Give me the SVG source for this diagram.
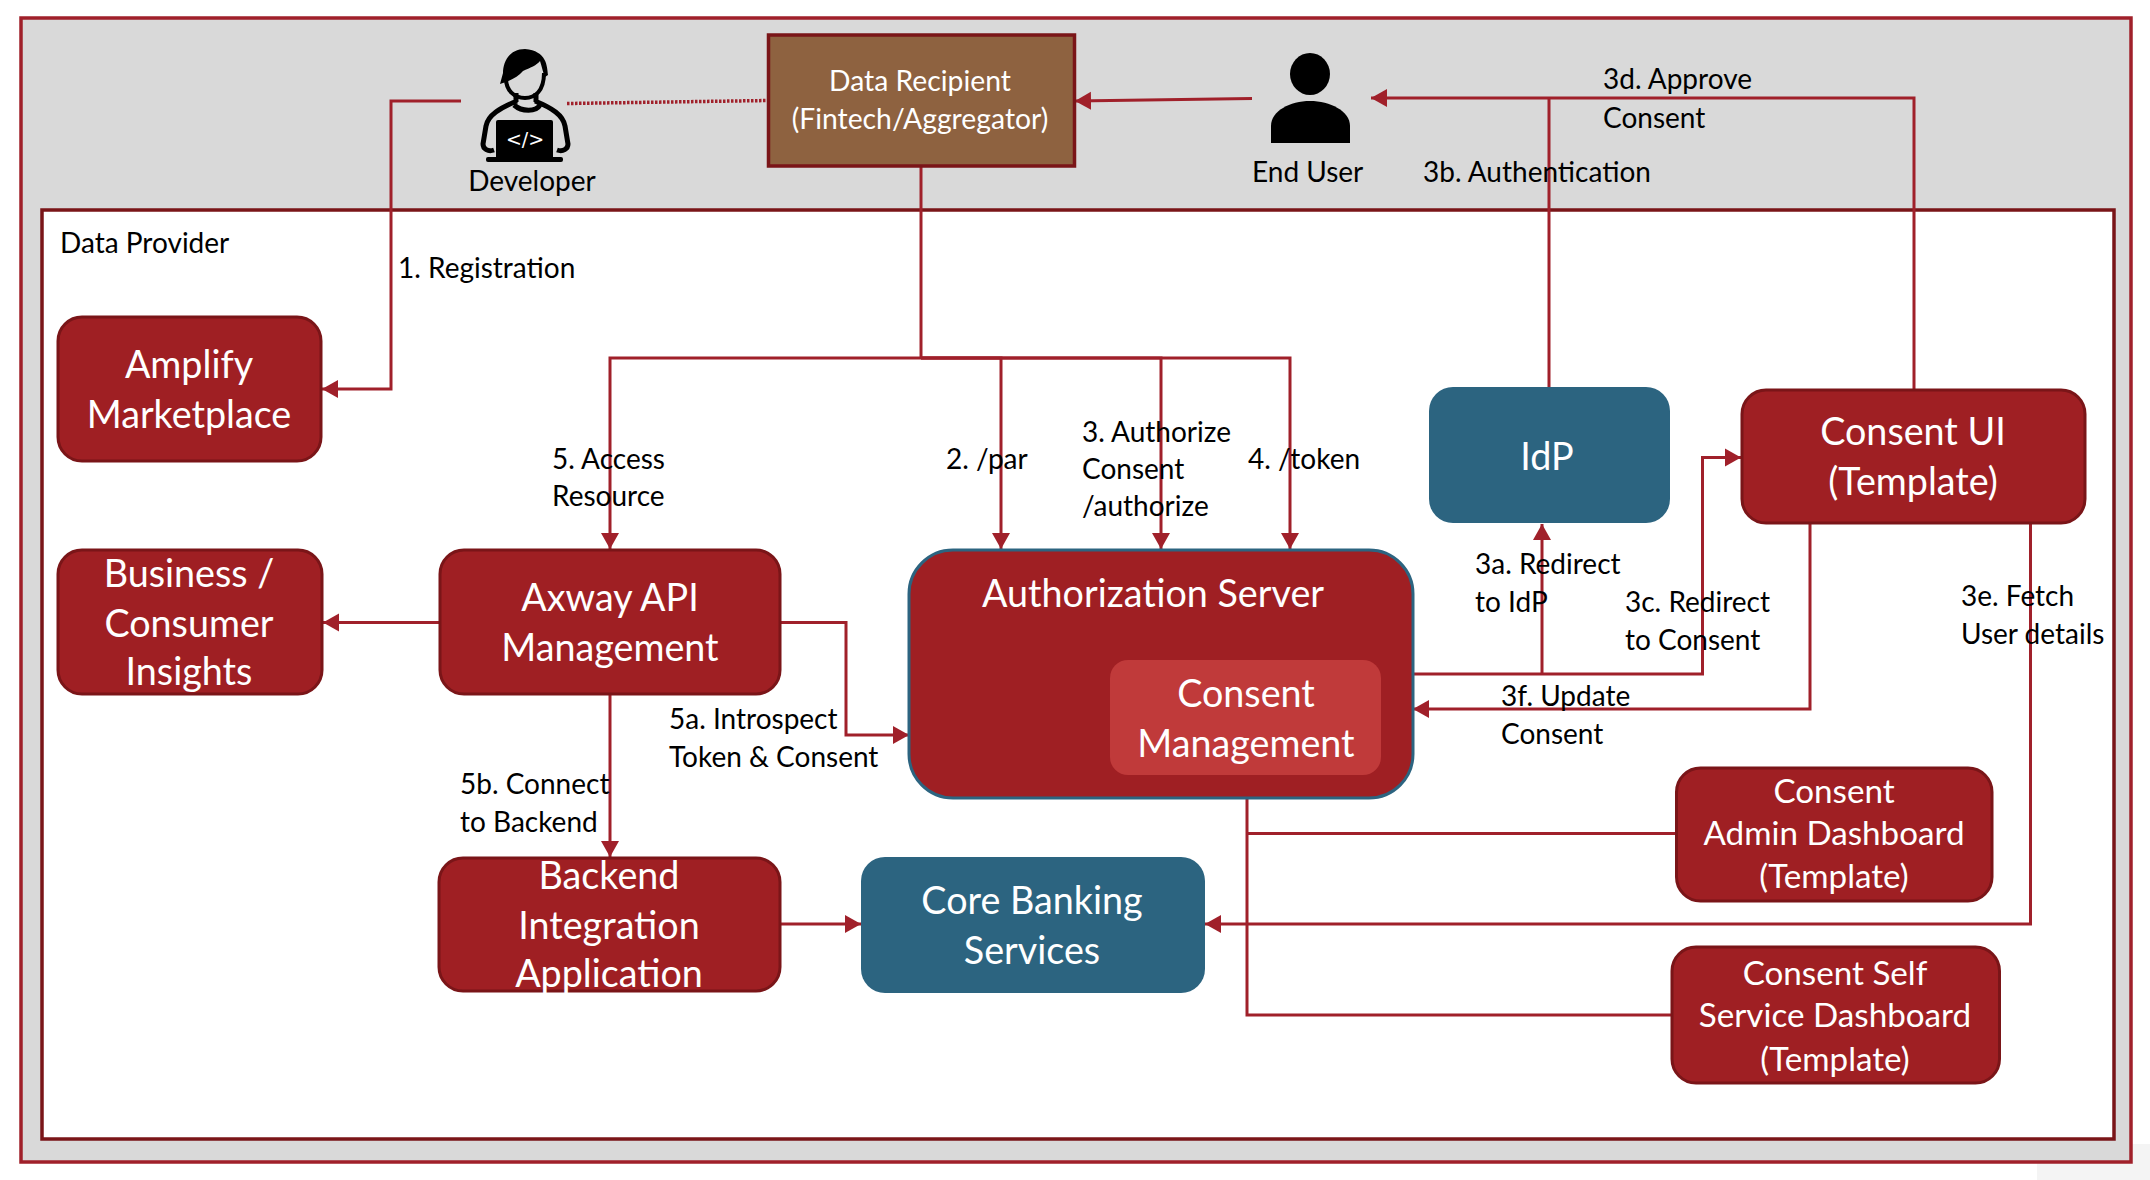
<svg xmlns="http://www.w3.org/2000/svg" width="2150" height="1180" viewBox="0 0 2150 1180">
<style>
text{font-family:"Lato","Open Sans","Liberation Sans",sans-serif}
.l{font-size:28px;fill:#000}
.n{font-size:37.7px;fill:#fff;text-anchor:middle}
.s{font-size:33.2px;fill:#fff;text-anchor:middle}
.d{font-size:28.3px;fill:#fff;text-anchor:middle}
.box{fill:#9F1F23;stroke:#7A1518;stroke-width:3}
.teal{fill:#2C6480}
.c{fill:none;stroke:#A0202A;stroke-width:3}
.a{marker-end:url(#arrow)}
</style>
<defs>
<marker id="arrow" markerUnits="userSpaceOnUse" markerWidth="18" markerHeight="20" refX="16" refY="10" orient="auto"><path d="M0 1L16 10L0 19Z" fill="#A0202A"/></marker>
</defs>
<rect x="2037" y="1144" width="113" height="36" fill="#F4F4F4"/>
<rect id="outer" x="21" y="18" width="2110" height="1144" fill="#D9D9D9" stroke="#A0202A" stroke-width="3.5"/>
<rect id="data-provider" x="42" y="210" width="2072" height="929" fill="#fff" stroke="#7A1518" stroke-width="3.5"/>
<text class="l" x="60" y="253">Data Provider</text>
<g transform="translate(0 1)">
<g id="connectors">
<path class="c a" d="M461 100H391V388H322"/>
<path class="c" stroke-width="3.5" style="stroke-width:3.5px" stroke-dasharray="2.500 1.500" d="M567 102.500L768 99.500"/>
<path class="c a" d="M1252 97.500L1075 100"/>
<path class="c a" d="M1914 388V97H1371"/>
<path class="c" d="M1549 386V97"/>
<path class="c" d="M921 166V357"/>
<path class="c a" d="M921 357H610V548"/>
<path class="c a" d="M921 357H1001V548"/>
<path class="c a" d="M921 357H1161V548"/>
<path class="c a" d="M921 357H1290V548"/>
<path class="c a" d="M439 621.500H323"/>
<path class="c a" d="M781 621.500H846V734H909"/>
<path class="c a" d="M610 694V856"/>
<path class="c a" d="M781 923H861"/>
<path class="c a" d="M1413 673H1702.500V456.500H1741"/>
<path class="c a" d="M1542 673V523"/>
<path class="c a" d="M1810 523V708H1413"/>
<path class="c a" d="M2030.500 523V923H1205"/>
<path class="c" d="M1675 832.500H1247"/>
<path class="c" d="M1671 1014H1247V798"/>
</g>
<g id="developer">
<path fill="#000" d="M525 48C510 48 503 60 503 72L500 83C510 80 518 76 523 70C530 67 537 64 540 60C542 66 543 72 545 76L548 74C547 65 547 50 525 48Z"/>
<path fill="none" stroke="#000" stroke-width="4" d="M506 75C505 90 515 97 525 97C535 97 544 90 544 72"/>
<path fill="none" stroke="#000" stroke-width="5" d="M517 100C500 107 488 114 486 125L483 143C483 148 488 151 494 149M535 100C552 107 563 114 565 125L568 143C568 148 563 151 557 149M514 104C522 111 536 111 540 104M516 92V101M536 92V101"/>
<rect x="496" y="119" width="57" height="39" rx="2" fill="#000"/>
<rect x="486" y="156" width="77" height="5" rx="2" fill="#000"/>
<text x="525" y="145" text-anchor="middle" style="font-size:19px;font-family:'DejaVu Sans',sans-serif;fill:#fff">&lt;/&gt;</text>
<text class="l" x="532" y="190" text-anchor="middle">Developer</text>
</g>
<g id="end-user">
<ellipse cx="1310" cy="73" rx="20" ry="21" fill="#000"/>
<path fill="#000" d="M1271 142V125C1271 110 1290 100 1310 100C1330 100 1350 110 1350 125V142Z"/>
<text class="l" x="1252" y="181">End User</text>
</g>
<g id="data-recipient">
<rect x="768.500" y="34" width="306" height="131" fill="#8E6240" stroke="#7A1518" stroke-width="3.500"/>
<text class="d" x="920" y="90">Data Recipient</text>
<text class="d" x="920" y="128">(Fintech/Aggregator)</text>
</g>
<g id="amplify"><rect class="box" x="58" y="316" width="263" height="144" rx="24"/><text class="n" x="189" y="377">Amplify</text><text class="n" x="189" y="427">Marketplace</text></g>
<g id="business"><rect class="box" x="58" y="549" width="264" height="144" rx="24"/><text class="n" x="189" y="586">Business /</text><text class="n" x="189" y="636">Consumer</text><text class="n" x="189" y="684">Insights</text></g>
<g id="axway"><rect class="box" x="440" y="549" width="340" height="144" rx="24"/><text class="n" x="610" y="610">Axway API</text><text class="n" x="610" y="660">Management</text></g>
<g id="backend"><rect class="box" x="439" y="857" width="341" height="133" rx="24"/><text class="n" x="609" y="888">Backend</text><text class="n" x="609" y="938">Integration</text><text class="n" x="609" y="986">Application</text></g>
<g id="core-banking"><rect class="teal" x="861" y="856" width="344" height="136" rx="24"/><text class="n" x="1032" y="913">Core Banking</text><text class="n" x="1032" y="963">Services</text></g>
<g id="auth-server"><rect x="909" y="549" width="504" height="248" rx="44" fill="#9F1F23" stroke="#2C6480" stroke-width="3"/><text class="n" x="1153" y="606">Authorization Server</text></g>
<g id="consent-management"><rect x="1110" y="659" width="271" height="115" rx="18" fill="#C03A3A"/><text class="n" x="1246" y="706">Consent</text><text class="n" x="1246" y="756">Management</text></g>
<g id="idp"><rect class="teal" x="1429" y="386" width="241" height="136" rx="24"/><text class="n" x="1547" y="469">IdP</text></g>
<g id="consent-ui"><rect class="box" x="1742" y="389" width="343" height="133" rx="24"/><text class="n" x="1913" y="444">Consent UI</text><text class="n" x="1913" y="494">(Template)</text></g>
<g id="consent-admin"><rect class="box" x="1676.500" y="767" width="315.500" height="133" rx="24"/><text class="s" x="1834" y="802">Consent</text><text class="s" x="1834" y="844">Admin Dashboard</text><text class="s" x="1834" y="887">(Template)</text></g>
<g id="consent-self"><rect class="box" x="1672" y="946" width="327.500" height="136" rx="24"/><text class="s" x="1835" y="984">Consent Self</text><text class="s" x="1835" y="1026">Service Dashboard</text><text class="s" x="1835" y="1070">(Template)</text></g>
<g id="labels">
<text class="l" x="398" y="277">1. Registration</text>
<text class="l" x="552" y="468">5. Access</text><text class="l" x="552" y="505">Resource</text>
<text class="l" x="946" y="468">2. /par</text>
<text class="l" x="1082" y="441">3. Authorize</text><text class="l" x="1082" y="478">Consent</text><text class="l" x="1082" y="515">/authorize</text>
<text class="l" x="1248" y="468">4. /token</text>
<text class="l" x="1475" y="573">3a. Redirect</text><text class="l" x="1475" y="611">to IdP</text>
<text class="l" x="1625" y="611">3c. Redirect</text><text class="l" x="1625" y="649">to Consent</text>
<text class="l" x="1961" y="605">3e. Fetch</text><text class="l" x="1961" y="643">User details</text>
<text class="l" x="1501" y="705">3f. Update</text><text class="l" x="1501" y="743">Consent</text>
<text class="l" x="669" y="728">5a. Introspect</text><text class="l" x="669" y="766">Token &amp; Consent</text>
<text class="l" x="460" y="793">5b. Connect</text><text class="l" x="460" y="831">to Backend</text>
<text class="l" x="1603" y="88">3d. Approve</text><text class="l" x="1603" y="127">Consent</text>
<text class="l" x="1423" y="181">3b. Authentication</text>
</g>
</g>
</svg>
